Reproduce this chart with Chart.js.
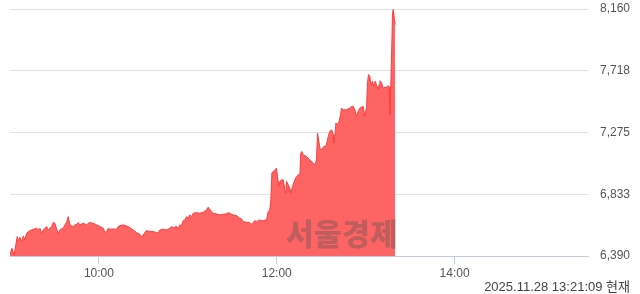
<!DOCTYPE html>
<html>
<head>
<meta charset="utf-8">
<script src="https://cdn.jsdelivr.net/npm/chart.js@4"></script>
<style>
  html, body { margin: 0; padding: 0; background: #fff; }
  #wrap { position: relative; width: 640px; height: 294px; }
  #grafico { position: absolute; left: 0; top: 0; }
  #marca {
    position: absolute; left: 286px; top: 212px;
    font: 900 30px "Noto Sans CJK KR", sans-serif;
    color: rgba(80,80,80,0.36); pointer-events: none; letter-spacing: 0.5px;
    line-height: 40px;
  }
  #hora {
    position: absolute; right: 10px; top: 276px;
    font: 13px "Liberation Sans", "Noto Sans CJK KR", sans-serif;
    color: #444;
  }
</style>
</head>
<body>
<div id="wrap">
  <canvas id="grafico" width="640" height="294"></canvas>
  <div id="marca">서울경제</div>
  <div id="hora">2025.11.28 13:21:09 현재</div>
</div>
<script>
// minutos desde las 09:00
const minutos = [0, 1.3, 2.7, 4.9, 5.6, 6.7, 7.9, 9.0, 10.1, 11.2, 13.5, 15.7, 18.0, 19.1, 20.2, 21.3, 22.5, 23.6, 24.7, 25.8,
  27.0, 28.1, 29.2, 30.3, 31.5, 32.6, 33.7, 36.0, 37.1, 38.2, 39.3, 40.4, 41.6, 42.7, 43.8, 44.9, 46.1, 47.2, 49.4, 51.7,
  52.8, 53.9, 56.2, 58.4, 60.7, 62.9, 64.0, 65.2, 66.3, 67.4, 69.7, 71.9, 73.0, 74.2, 76.4, 78.7, 80.9, 83.1, 85.4, 87.6,
  88.8, 89.9, 91.0, 92.1, 94.4, 96.6, 98.9, 100.0, 101.1, 103.4, 105.6, 107.9, 109.0, 110.1, 112.4, 113.5, 114.6, 115.7, 116.9, 118.0,
  119.1, 120.2, 121.3, 122.5, 123.6, 125.8, 128.1, 130.3, 132.6, 133.7, 134.8, 136.0, 137.1, 139.3, 141.6, 143.8, 146.1, 147.2, 148.3, 150.6,
  152.8, 155.1, 156.2, 157.3, 159.6, 161.8, 162.9, 164.0, 165.2, 166.3, 168.5, 170.8, 171.9, 173.0, 174.2, 175.3, 176.0, 176.7, 177.6, 178.7,
  179.8, 180.5, 181.4, 182.1, 183.2, 184.3, 185.5, 186.1, 186.6, 187.7, 188.8, 189.5, 190.6, 192.2, 193.3, 194.5, 195.6, 196.2, 196.9, 197.8,
  200.1, 202.3, 204.6, 205.7, 206.8, 207.5, 208.2, 209.1, 210.2, 211.8, 213.1, 214.0, 214.7, 215.8, 217.0, 218.1, 218.5, 219.2, 219.9, 220.8,
  222.1, 223.0, 223.7, 224.8, 227.1, 229.3, 230.4, 231.6, 232.7, 233.8, 234.9, 236.1, 238.3, 239.4, 240.6, 241.2, 241.9, 242.8, 243.5, 244.6,
  245.5, 246.4, 247.3, 248.4, 249.1, 249.6, 250.7, 251.8, 254.1, 255.2, 255.9, 256.3, 257.0, 257.7, 258.1, 258.6, 259.3, 259.9]
const precios = [6400, 6445, 6395, 6529, 6498, 6524, 6493, 6534, 6505, 6553, 6572, 6581, 6589, 6577, 6589, 6553, 6577, 6589, 6601, 6577,
  6589, 6601, 6629, 6625, 6581, 6553, 6577, 6593, 6613, 6632, 6672, 6617, 6605, 6601, 6613, 6617, 6629, 6613, 6625, 6613,
  6625, 6629, 6625, 6613, 6601, 6589, 6558, 6565, 6589, 6581, 6584, 6581, 6601, 6608, 6613, 6605, 6593, 6577, 6558, 6546,
  6529, 6541, 6558, 6572, 6565, 6565, 6558, 6553, 6577, 6581, 6577, 6589, 6601, 6593, 6601, 6584, 6613, 6608, 6644, 6648,
  6672, 6660, 6684, 6672, 6696, 6701, 6696, 6703, 6720, 6739, 6725, 6708, 6696, 6692, 6684, 6689, 6692, 6701, 6696, 6684,
  6680, 6660, 6656, 6636, 6632, 6629, 6617, 6629, 6644, 6636, 6648, 6641, 6648, 6644, 6708, 6720, 6792, 6984, 6995, 7007,
  7020, 6959, 6888, 6924, 6936, 6936, 6864, 6840, 6924, 6900, 6876, 6840, 6888, 6936, 6959, 6972, 6972, 7127, 7139, 7115,
  7103, 7079, 7056, 7043, 7079, 7271, 7223, 7163, 7151, 7175, 7175, 7211, 7247, 7282, 7295, 7259, 7199, 7247, 7343, 7331,
  7355, 7402, 7450, 7438, 7438, 7450, 7462, 7462, 7438, 7390, 7426, 7450, 7462, 7390, 7462, 7630, 7690, 7677, 7618, 7642,
  7606, 7642, 7618, 7582, 7618, 7646, 7630, 7594, 7601, 7611, 7601, 7402, 7630, 7941, 8133, 8156, 8097, 8049]

const ticksY = [6390, 6832.5, 7275, 7717.5, 8160]
const etiquetasY = ['6,390', '6,833', '7,275', '7,718', '8,160']
const ticksX = [60, 180, 300]
const etiquetasX = ['10:00', '12:00', '14:00']

const puntos = minutos.map((m, i) => ({ x: m, y: precios[i] }))
const fuente = { family: '"Liberation Sans", sans-serif', size: 12 }

const ctx = document.getElementById('grafico').getContext('2d')

new Chart(ctx, {
  type: 'line',
  data: {
    datasets: [{
      data: puntos,
      borderColor: '#ff3d3d',
      backgroundColor: '#ff6464',
      borderWidth: 1,
      pointRadius: 0,
      tension: 0,
      fill: 'start'
    }]
  },
  options: {
    responsive: false,
    animation: false,
    layout: { padding: { left: 10, top: 9, right: 10, bottom: 0 } },
    plugins: { legend: { display: false }, tooltip: { enabled: false } },
    scales: {
      x: {
        type: 'linear',
        min: 0,
        max: 390,
        afterBuildTicks: s => { s.ticks = ticksX.map(v => ({ value: v })) },
        afterFit: s => { s.height = 38 },
        ticks: {
          autoSkip: false, maxRotation: 0, padding: 2,
          color: '#555', font: fuente,
          callback: (v, i) => etiquetasX[i]
        },
        grid: { drawOnChartArea: false, color: '#c4cde0', tickLength: 8 },
        border: { color: '#c4cde0' }
      },
      y: {
        position: 'right',
        min: 6390,
        max: 8160,
        afterBuildTicks: s => { s.ticks = ticksY.map(v => ({ value: v })) },
        afterFit: s => { s.width = 42 },
        ticks: {
          crossAlign: 'far', padding: 0,
          color: '#555', font: fuente,
          callback: (v, i) => etiquetasY[i]
        },
        grid: { color: '#e2e2e2', drawTicks: false },
        border: { display: false }
      }
    }
  }
})
</script>
</body>
</html>
